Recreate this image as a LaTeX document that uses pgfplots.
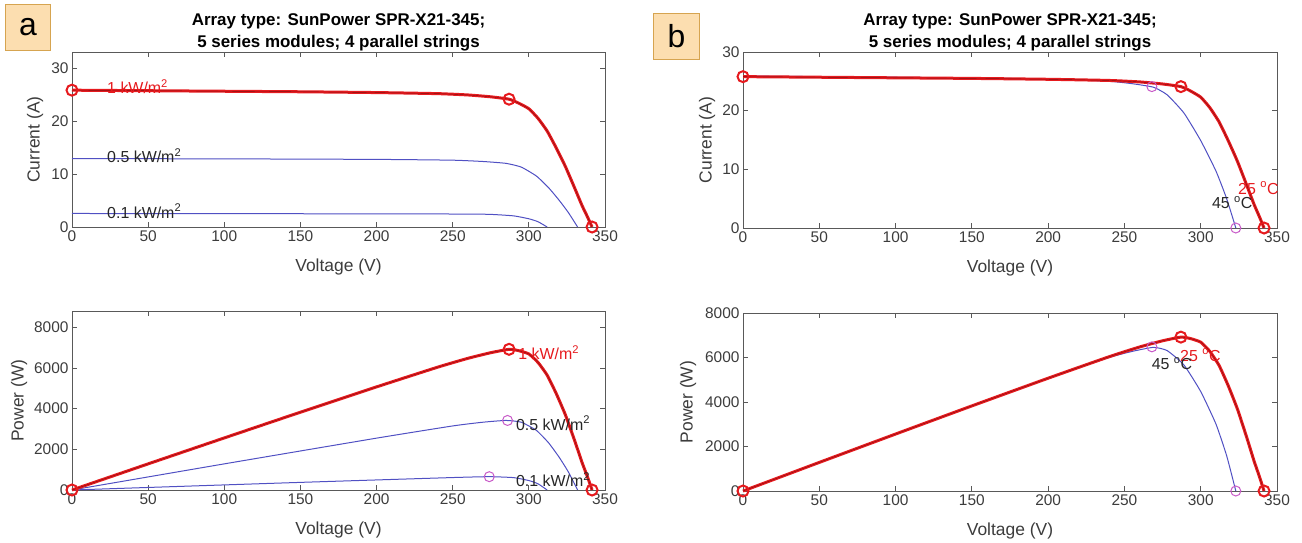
\documentclass[border=0pt]{standalone}
\usepackage{fontspec}
\setmainfont{Liberation Sans}
\usepackage{pgfplots}
\usepackage{pgfplotstable}
\pgfplotsset{compat=1.18}

\definecolor{pvred}{RGB}{230,26,30}
\definecolor{pvblue}{RGB}{80,80,195}
\definecolor{pvmag}{RGB}{200,90,200}
\definecolor{tickgray}{RGB}{60,60,60}
\definecolor{boxfill}{RGB}{252,222,176}
\definecolor{boxedge}{RGB}{214,164,80}

% 1 kW/m^2, 25 C curve: voltage, current, power
\pgfplotstableread{
V I P
0 25.8 0
50 25.7 1285
100 25.6 2560
150 25.5 3825
200 25.35 5070
240 25.15 6036
260 24.9 6474
275 24.55 6751.25
287 24.1 6916.7
293 23.4 6856.2
300 22.3 6690
306 20.5 6273
312 18.1 5647.2
318 14.9 4738.2
324 11.4 3693.6
330 7.4 2442
335 4.0 1340
338.5 1.9 643.15
341.5 0 0
}\stc

% 45 C curve
\pgfplotstableread{
V I P
0 25.9 0
100 25.7 2570
200 25.4 5080
240 25.0 6000
255 24.6 6273
269 24.0 6456
278 22.7 6310.6
289 19.6 5664.4
300 14.9 4470
310 9.7 3007
317 5.0 1585
323 0 0
}\hot

% 0.5 kW/m^2
\pgfplotstableread{
V I P
0 12.9 0
100 12.85 1285
200 12.75 2550
250 12.6 3150
270 12.35 3334.5
285 12.0 3420
295 11.3 3333.5
305 9.6 2928
313 7.4 2316.2
320 5.0 1600
326 2.7 880.2
332 0 0
}\half

% 0.1 kW/m^2
\pgfplotstableread{
V I P
0 2.55 0
150 2.5 375
250 2.45 612.5
274 2.39 654.9
290 2.1 609
300 1.55 465
306 1.0 306
312 0 0
}\tenth

\pgfplotsset{
  pv/.style={scale only axis, xmin=0, xmax=350, xtick={0,50,...,350}, clip=false,
    axis line style={color=black!65, line width=0.8bp},
    tick style={color=black!65, line width=0.8bp}, major tick length=5bp,
    tick label style={font=\fontsize{15.5}{15.5}\selectfont, text=tickgray},
    label style={font=\fontsize{17.5}{17.5}\selectfont, text=tickgray},
    /pgf/number format/assume math mode=true, /pgf/number format/1000 sep={},
    xlabel={Voltage (V)},
    xlabel style={at={(axis description cs:0.5,0)}, anchor=north, yshift=-28bp},
    ylabel style={at={(axis description cs:0,0.5)}, anchor=center},
  },
  ttl/.style={title={Array type: SunPower SPR-X21-345;\\5 series modules; 4 parallel strings},
    title style={align=center, font=\bfseries\fontsize{17}{22}\selectfont,
      at={(axis description cs:0.5,1)}, anchor=center, yshift=14bp}},
  hi/.style={line width=3bp, color=pvred, smooth, tension=0.3},
  core/.style={line width=0.4bp, color=black, opacity=0.45, smooth, tension=0.3},
  lo/.style={line width=1bp, color=pvblue, smooth, tension=0.3},
  mk/.style={only marks, mark=o, mark size=5.5bp, mark options={line width=2bp, draw=pvred}},
  mk2/.style={only marks, mark=o, mark size=5bp, mark options={line width=1bp, draw=pvmag}},
}
\tikzset{lbl/.style={anchor=west, inner sep=0pt, font=\fontsize{16}{16}\selectfont}}

\begin{document}
\begin{tikzpicture}
\path[use as bounding box] (0,0) rectangle (1302bp,-543bp);

% panel labels
\node[draw=boxedge, fill=boxfill, line width=1bp, minimum width=45bp, minimum height=46bp,
  anchor=north west, font=\fontsize{32}{32}\selectfont, inner sep=0pt] at (5bp,-4bp) {a};
\node[draw=boxedge, fill=boxfill, line width=1bp, minimum width=46bp, minimum height=46bp,
  anchor=north west, font=\fontsize{32}{32}\selectfont, inner sep=0pt] at (653bp,-13bp) {b};

% a: current
\begin{axis}[pv, ttl, at={(72bp,-227bp)}, anchor=south west, width=533bp, height=175bp,
  ymin=0, ymax=33, ytick={0,10,20,30}, ylabel={Current (A)}, ylabel style={yshift=37bp}]
\addplot[lo] table[x=V, y=I] {\tenth};
\addplot[lo] table[x=V, y=I] {\half};
\addplot[hi] table[x=V, y=I] {\stc};
\addplot[core] table[x=V, y=I] {\stc};
\addplot[mk] coordinates {(0,25.8) (287,24.1) (341.5,0)};
\node[lbl, text=pvred] at (axis cs:23,26.4) {1 kW/m\textsuperscript{2}};
\node[lbl, text=black!85] at (axis cs:23,13.4) {0.5 kW/m\textsuperscript{2}};
\node[lbl, text=black!85] at (axis cs:23,3.0) {0.1 kW/m\textsuperscript{2}};
\end{axis}

% a: power
\begin{axis}[pv, at={(72bp,-490bp)}, anchor=south west, width=533bp, height=179bp,
  ymin=0, ymax=8800, ytick={0,2000,...,8000}, ylabel={Power (W)}, ylabel style={yshift=53bp}]
\addplot[lo] table[x=V, y=P] {\tenth};
\addplot[lo] table[x=V, y=P] {\half};
\addplot[hi] table[x=V, y=P] {\stc};
\addplot[core] table[x=V, y=P] {\stc};
\addplot[mk2] coordinates {(274,654.9) (286,3420)};
\addplot[mk] coordinates {(0,0) (287,6916.7) (341.5,0)};
\node[lbl, text=pvred] at (axis cs:293,6750) {1 kW/m\textsuperscript{2}};
\node[lbl, text=black!85] at (axis cs:291.5,3290) {0.5 kW/m\textsuperscript{2}};
\node[lbl, text=black!85] at (axis cs:291.5,490) {0.1 kW/m\textsuperscript{2}};
\end{axis}

% b: current
\begin{axis}[pv, ttl, at={(743bp,-228bp)}, anchor=south west, width=534bp, height=176bp,
  ymin=0, ymax=30, ytick={0,10,20,30}, ylabel={Current (A)}, ylabel style={yshift=36bp}]
\addplot[lo] table[x=V, y=I] {\hot};
\addplot[hi] table[x=V, y=I] {\stc};
\addplot[core] table[x=V, y=I] {\stc};
\addplot[mk2] coordinates {(268,24.1) (323,0)};
\addplot[mk] coordinates {(0,25.8) (287,24.1) (341.5,0)};
\node[lbl, text=pvred] at (axis cs:324.4,6.8) {25 \textsuperscript{o}C};
\node[lbl, text=black!85] at (axis cs:307.3,4.3) {45 \textsuperscript{o}C};
\end{axis}

% b: power
\begin{axis}[pv, at={(743bp,-491bp)}, anchor=south west, width=534bp, height=178bp,
  ymin=0, ymax=8000, ytick={0,2000,...,8000}, ylabel={Power (W)}, ylabel style={yshift=55bp}]
\addplot[lo] table[x=V, y=P] {\hot};
\addplot[hi] table[x=V, y=P] {\stc};
\addplot[core] table[x=V, y=P] {\stc};
\addplot[mk2] coordinates {(268,6480) (323,0)};
\addplot[mk] coordinates {(0,0) (287,6916.7) (341.5,0)};
\node[lbl, text=pvred] at (axis cs:286.4,6112) {25 \textsuperscript{o}C};
\node[lbl, text=black!85] at (axis cs:267.8,5740) {45 \textsuperscript{o}C};
\end{axis}
\end{tikzpicture}
\end{document}
